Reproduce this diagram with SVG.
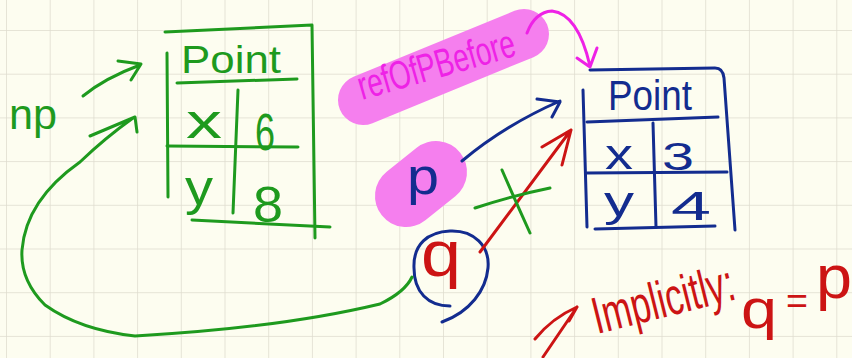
<svg xmlns="http://www.w3.org/2000/svg" width="852" height="358" viewBox="0 0 852 358">
  <defs>
    <pattern id="grid" x="6" y="30" width="43.7" height="43.7" patternUnits="userSpaceOnUse">
      <path d="M0,0 H43.7 M0,0 V43.7" fill="none" stroke="#dedcce" stroke-width="1.5"/>
    </pattern>
    <style>
      .ink { fill: none; stroke-linecap: round; stroke-linejoin: round; stroke-width: 3; }
      .g { stroke: #1e9a1e; }
      .b { stroke: #132c8f; }
      .r { stroke: #cc1414; }
      .m { stroke: #ee22e6; }
      .t { font-family: "Liberation Sans", "DejaVu Sans", sans-serif; }
      .tg { fill: #1e9a1e; }
      .tb { fill: #132c8f; }
      .tr { fill: #cc1414; }
      .tm { fill: #ee22e6; }
      .hl { stroke: #f57fee; fill: none; stroke-linecap: round; }
    </style>
  </defs>
  <rect width="852" height="358" fill="#fdfdf0"/>
  <rect width="852" height="358" fill="url(#grid)"/>

  <!-- highlights -->
  <g id="highlights">
    <path class="hl" d="M363,100 L524,34" stroke-width="50"/>
    <path class="hl" d="M406,196 L436,172" stroke-width="62"/>
  </g>

  <g id="np-label">
    <text class="t tg" x="9" y="129" font-size="42" textLength="48" lengthAdjust="spacingAndGlyphs">np</text>
  </g>

  <g id="green-point">
    <path class="ink g" d="M165,32 L312,25 L315,238"/>
    <path class="ink g" d="M167,53 L168,197"/>
    <path class="ink g" d="M177,83 L297,79"/>
    <path class="ink g" d="M238,90 L233,213"/>
    <path class="ink g" d="M167,146 L298,147"/>
    <path class="ink g" d="M192,220 L330,227"/>
    <text class="t tg" x="181" y="73" font-size="38" textLength="100" lengthAdjust="spacingAndGlyphs">Point</text>
    <text class="t tg" x="186" y="138" font-size="48" textLength="36" lengthAdjust="spacingAndGlyphs">x</text>
    <text class="t tg" x="255" y="150" font-size="52" textLength="20" lengthAdjust="spacingAndGlyphs">6</text>
    <text class="t tg" x="185" y="205" font-size="50" textLength="28" lengthAdjust="spacingAndGlyphs">y</text>
    <text class="t tg" x="253" y="222" font-size="50" textLength="30" lengthAdjust="spacingAndGlyphs">8</text>
  </g>

  <g id="refOfPBefore">
    <text class="t tm" transform="translate(362,100) rotate(-16)" font-size="40" textLength="162" lengthAdjust="spacingAndGlyphs">refOfPBefore</text>
  </g>

  <g id="p-node">
    <text class="t tb" x="407" y="194" font-size="52" textLength="32" lengthAdjust="spacingAndGlyphs">p</text>
  </g>

  <g id="blue-point">
    <path class="ink b" d="M590,70 L715,68 Q723,68 724,78 L735,230"/>
    <path class="ink b" d="M583,90 L587,227"/>
    <path class="ink b" d="M587,122 L718,117"/>
    <path class="ink b" d="M653,123 L656,227"/>
    <path class="ink b" d="M587,173 L727,172"/>
    <path class="ink b" d="M595,229 L715,226"/>
    <text class="t tb" x="608" y="110" font-size="42" textLength="84" lengthAdjust="spacingAndGlyphs">Point</text>
    <text class="t tb" x="605" y="169" font-size="42" textLength="28" lengthAdjust="spacingAndGlyphs">x</text>
    <text class="t tb" x="662" y="170" font-size="38" textLength="32" lengthAdjust="spacingAndGlyphs">3</text>
    <text class="t tb" x="604" y="216" font-size="42" textLength="30" lengthAdjust="spacingAndGlyphs">y</text>
    <text class="t tb" x="671" y="220" font-size="40" textLength="40" lengthAdjust="spacingAndGlyphs">4</text>
  </g>

  <g id="q-node">
    <path class="ink b" d="M450,306 C428,306 414,292 414,268 C413,244 428,232 450,231 C474,230 490,246 488,268 C486,290 470,312 442,322"/>
    <text class="t tr" x="421" y="276" font-size="64" textLength="40" lengthAdjust="spacingAndGlyphs">q</text>
  </g>

  <g id="implicitly-note">
    <path class="ink r" d="M543,357 L577,307 M535,339 Q552,318 577,307 M577,307 L569,321"/>
    <text class="t tr" transform="translate(597,334) rotate(-14)" font-size="52" textLength="145" lengthAdjust="spacingAndGlyphs">Implicitly:</text>
    <text class="t tr" x="741" y="328" font-size="56" textLength="36" lengthAdjust="spacingAndGlyphs">q</text>
    <text class="t tr" x="786" y="313" font-size="36" textLength="22" lengthAdjust="spacingAndGlyphs">=</text>
    <text class="t tr" x="816" y="298" font-size="62" textLength="36" lengthAdjust="spacingAndGlyphs">p</text>
  </g>

  <g id="connectors">
    <!-- np arrows -->
    <path class="ink g" d="M83,96 Q105,78 140,65 M118,61 L141,64 L131,80"/>
    <path class="ink g" d="M412,277 Q405,292 380,304 Q280,328 135,336 Q80,330 45,305 Q20,280 22,250 Q26,200 80,162 Q105,138 133,118 M90,136 L135,117 L137,132"/>
    <!-- p to blue Point -->
    <path class="ink b" d="M462,161 Q505,125 560,101 M537,99 L560,102 L552,117"/>
    <!-- refOfPBefore arrow -->
    <path class="ink m" d="M527,33 Q535,12 552,11 Q578,14 590,66 M577,58 L590,67 L597,48"/>
    <!-- q to blue Point (red) -->
    <path class="ink r" d="M480,252 L571,130 M542,147 L571,130 L562,165"/>
    <!-- green cross -->
    <path class="ink g" d="M475,208 Q515,195 550,188 M502,170 Q515,200 530,233"/>
  </g>
</svg>
